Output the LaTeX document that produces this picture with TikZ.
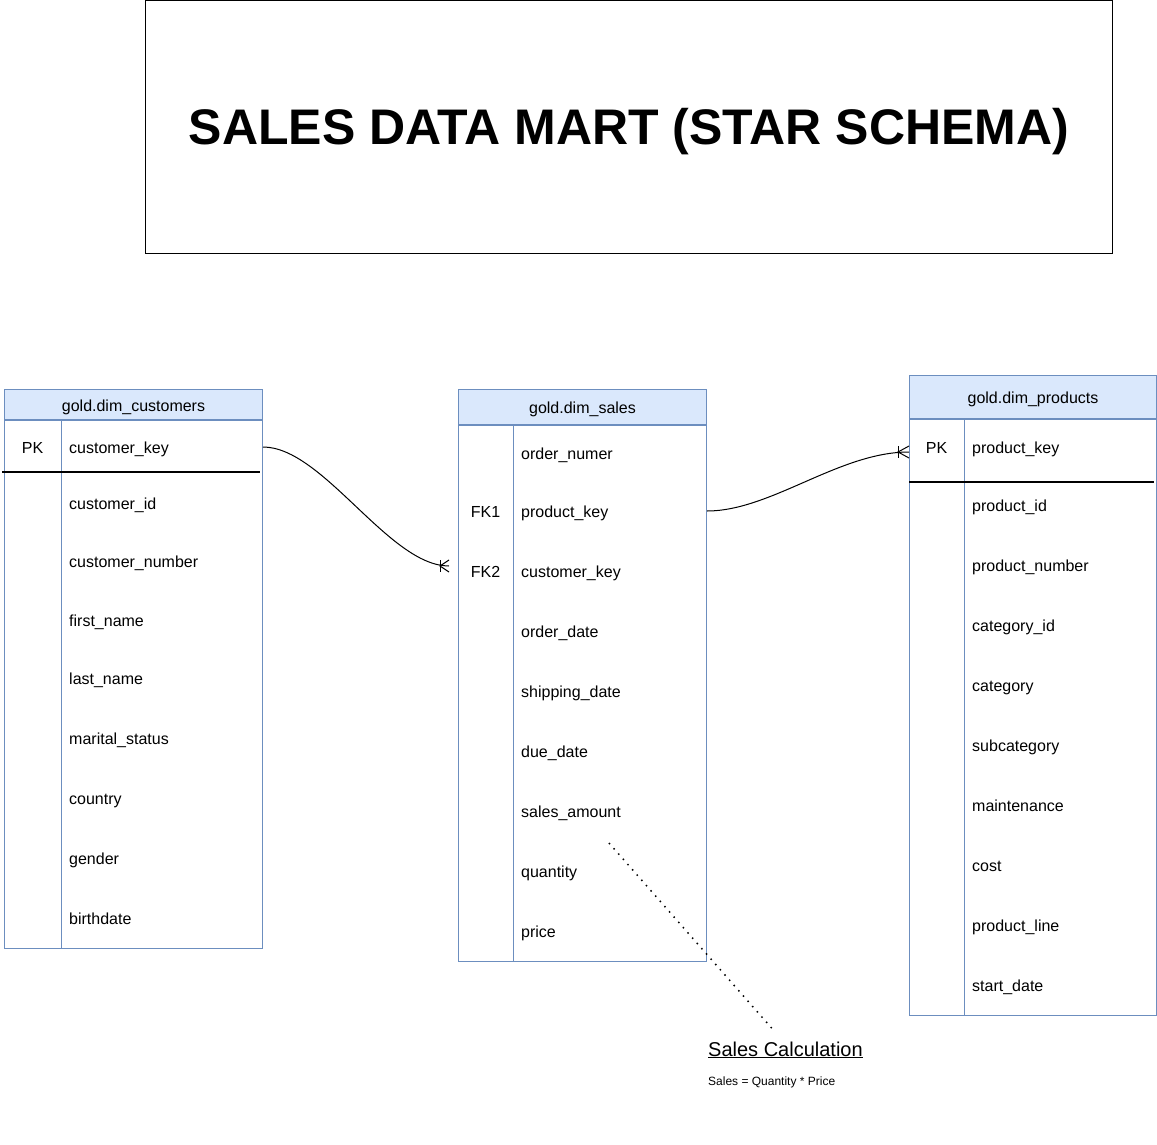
\documentclass[tikz,border=0pt]{standalone}
\usepackage{fontspec}
\setmainfont{Liberation Sans}
\usepackage{tikz}
\usepackage{xcolor}
\usetikzlibrary{positioning,calc}

\definecolor{tblblue}{HTML}{6C8EBF}
\definecolor{headblue}{HTML}{DAE8FC}

\tikzset{
  tblhead/.style={draw=tblblue, fill=headblue, line width=1pt, inner sep=0pt,
    text height=17pt, text depth=4pt, font=\fontsize{16}{19}\selectfont},
  tblbody/.style={draw=tblblue, fill=white, line width=1pt, inner sep=0pt},
  field/.style={anchor=west, inner sep=0pt, text height=16pt, text depth=4pt,
    font=\fontsize{16}{19}\selectfont},
  keytag/.style={inner sep=0pt, text height=16pt, text depth=4pt,
    font=\fontsize{16}{19}\selectfont},
  keyline/.style={line width=2pt},
  rel/.style={line width=1pt}
}

\begin{document}
\begin{tikzpicture}[x=1pt,y=-1pt]
    \useasboundingbox (0,0) rectangle (1157,1145);

    % Title
    \node[draw, line width=1pt, minimum width=967pt, minimum height=253pt, inner sep=0pt,
      text height=40pt, text depth=4pt,
      anchor=north west, font=\bfseries\fontsize{50}{60}\selectfont] (title) at (145,0)
      {SALES DATA MART (STAR SCHEMA)};

    % Customers table
    \node[tblbody, minimum width=258pt, minimum height=528pt, anchor=north west] (custbody) at (4,420) {};
    \node[tblhead, minimum width=258pt, minimum height=30pt, anchor=south west] (custhead) at (custbody.north west) {gold.dim\_customers};
    \draw[tblblue, line width=1pt] (61,420) -- (61,948);
    \foreach \y/\t [count=\i] in {447/customer\_key, 503/customer\_id, 561/customer\_number,
        620/first\_name, 678/last\_name, 738/marital\_status, 798/country, 858/gender, 918/birthdate}
      \node[field] (c\i) at (69,\y) {\t};
    \node[keytag] (custpk) at (32.5,447) {PK};
    \draw[keyline] (2,472) -- (260,472);

    % Sales table
    \node[tblbody, minimum width=248pt, minimum height=536pt, anchor=north west] (salebody) at (458,425) {};
    \node[tblhead, minimum width=248pt, minimum height=35pt, anchor=south west] (salehead) at (salebody.north west) {gold.dim\_sales};
    \draw[tblblue, line width=1pt] (513,425) -- (513,961);
    \foreach \y/\t [count=\i] in {453/order\_numer, 511/product\_key, 571/customer\_key,
        631/order\_date, 691/shipping\_date, 751/due\_date, 811/sales\_amount, 871/quantity, 931/price}
      \node[field] (s\i) at (521,\y) {\t};
    \node[keytag] (salefk1) at (485.5,511) {FK1};
    \node[keytag] (salefk2) at (485.5,571) {FK2};

    % Products table
    \node[tblbody, minimum width=247pt, minimum height=596pt, anchor=north west] (prodbody) at (909,419) {};
    \node[tblhead, minimum width=247pt, minimum height=43pt, anchor=south west] (prodhead) at (prodbody.north west) {gold.dim\_products};
    \draw[tblblue, line width=1pt] (964,419) -- (964,1015);
    \foreach \y/\t [count=\i] in {447/product\_key, 505/product\_id, 565/product\_number,
        625/category\_id, 685/category, 745/subcategory, 805/maintenance, 865/cost,
        925/product\_line, 985/start\_date}
      \node[field] (p\i) at (972,\y) {\t};
    \node[keytag] (prodpk) at (936.5,447) {PK};
    \draw[keyline] (909,482) -- (1154,482);

    % Relations
    \coordinate (cfoot) at ($(salebody.west |- s3)+(-9,-5)$);
    \coordinate (pfoot) at ($(prodbody.west |- p1)+(0,5)$);
    \draw[rel] (custbody.east |- c1) .. controls +(60,0) and +(-60,0) .. (cfoot);
    \draw[rel] ($(cfoot)+(-9,-6)$) -- ++(0,12);
    \draw[rel] ($(cfoot)+(0,-6)$) -- ($(cfoot)+(-9,0)$) -- ($(cfoot)+(0,6)$);
    \draw[rel] (salebody.east |- s2) .. controls +(64,0) and +(-70,0) .. (pfoot);
    \draw[rel] ($(pfoot)+(-11,-6)$) -- ++(0,12);
    \draw[rel] ($(pfoot)+(0,-6)$) -- ($(pfoot)+(-11,0)$) -- ($(pfoot)+(0,6)$);

    % Note
    \coordinate (calcpt) at (609,843);
    \node[anchor=base west, inner sep=0pt, font=\fontsize{20}{24}\selectfont] (calc) at (708,1056)
      {\underline{Sales Calculation}};
    \node[anchor=base west, inner sep=0pt, font=\fontsize{12}{14}\selectfont] (formula) at (708,1085)
      {Sales = Quantity * Price};
    \draw[line width=1.5pt, dash pattern=on 1.5pt off 5.5pt] (calcpt) -- ($(calc.north)+(-11,-10)$);
\end{tikzpicture}
\end{document}
